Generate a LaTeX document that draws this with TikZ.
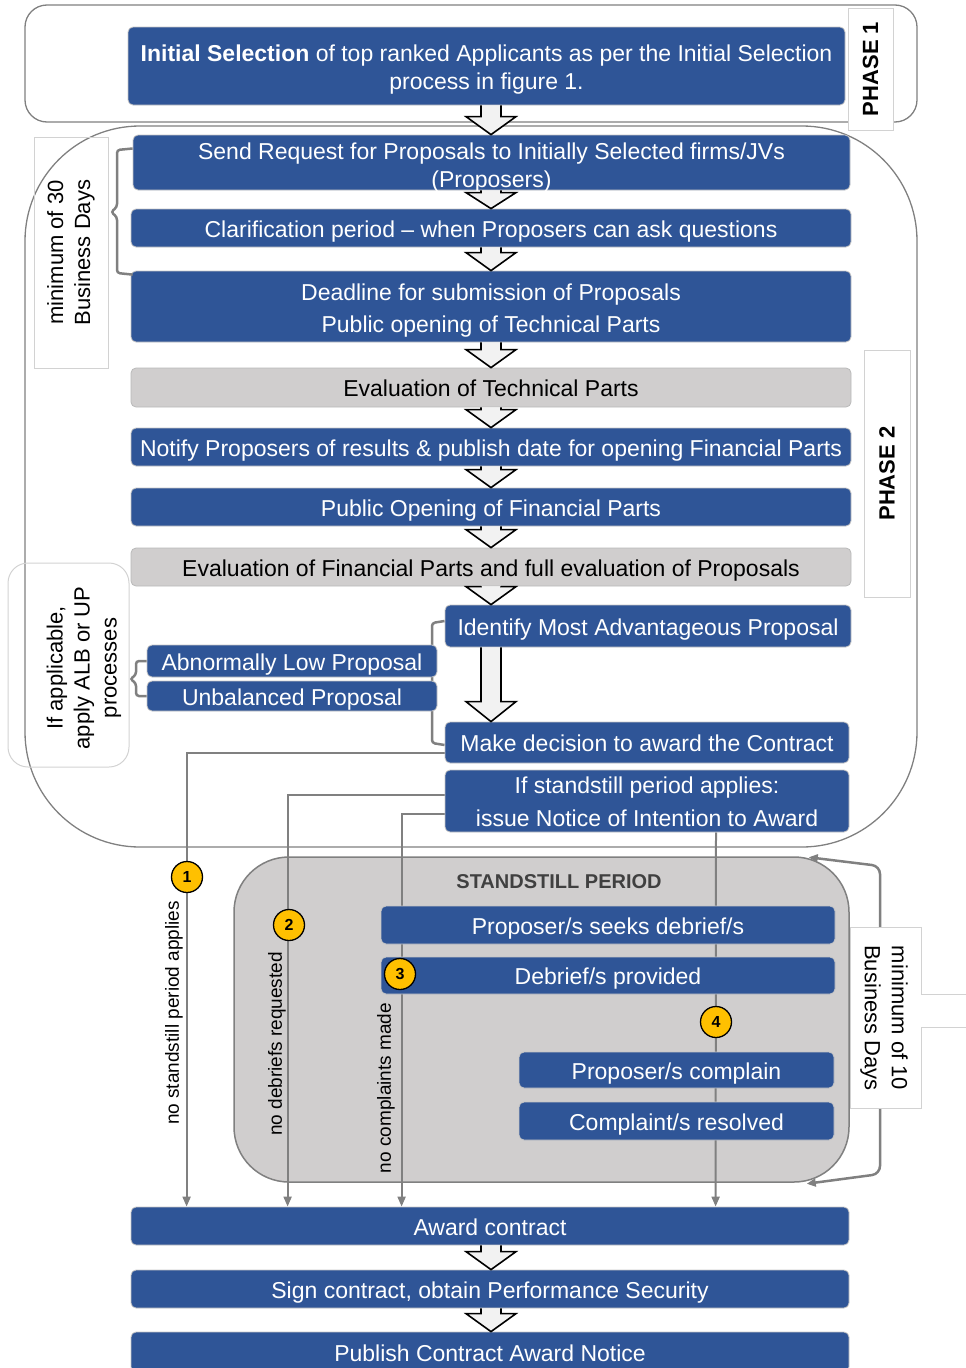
\documentclass[tikz,border=0pt]{standalone}
\usepackage{fontspec}
\setmainfont{Liberation Sans}
\usetikzlibrary{calc,arrows.meta}

\definecolor{boxblue}{HTML}{2F5597}
\definecolor{boxgrey}{HTML}{D0CECE}
\definecolor{linegrey}{HTML}{808080}
\definecolor{dotyellow}{HTML}{FFC000}
\definecolor{arrowfill}{HTML}{F2F2F2}
\definecolor{titlegrey}{HTML}{404040}

\pgfdeclarelayer{frames}
\pgfdeclarelayer{links}
\pgfsetlayers{frames,links,main}

\newcommand{\flowarrow}[3][18]{%
  \path (#2.south -| mid) coordinate (fa-top) (#3.north -| mid) coordinate (fa-tip);
  \filldraw[hollow] ($(fa-top)+(-10,0)$) -- ($(fa-tip)+(-10,-#1)$) -- ($(fa-tip)+(-25,-#1)$)
    -- (fa-tip) -- ($(fa-tip)+(25,-#1)$) -- ($(fa-tip)+(10,-#1)$) -- ($(fa-top)+(10,0)$);
}
\newcommand{\toplift}[1]{\rule{0pt}{#1pt}}

\begin{document}
\begin{tikzpicture}[x=1pt, y=-1pt,
    stepbox/.style = {rectangle, rounded corners=5, fill=boxblue, draw=gray!45, line width=0.8,
                      text=white, align=center, inner sep=0, font=\fontsize{23}{28}\selectfont,
                      execute at begin node={\rule{0pt}{24pt}},
                      execute at end node={\rule[-6pt]{0pt}{6pt}}},
    evalbox/.style = {stepbox, fill=boxgrey, draw=gray!55, text=black},
    hollow/.style = {fill=arrowfill, draw=black, line width=1.6, line join=miter},
    bracket/.style = {draw=linegrey, line width=2.5, rounded corners=3},
    route/.style = {draw=linegrey, line width=2, -{Triangle[length=10pt,width=8pt]}},
    phaseframe/.style = {draw=linegrey, line width=1.3},
    sideline/.style = {draw=gray!35, line width=1},
    sidebox/.style = {sideline, align=center, inner sep=0, font=\fontsize{22}{27}\selectfont},
    phasebox/.style = {sidebox, fill=white, font=\fontsize{22}{26}\selectfont\bfseries},
    stillbox/.style = {rectangle, rounded corners=55, fill=boxgrey, draw=linegrey, line width=1.5,
                       minimum width=615, minimum height=325},
    numdot/.style = {circle, fill=dotyellow, draw=black, line width=1.3, minimum size=31,
                     inner sep=0, font=\fontsize{16}{16}\selectfont\bfseries},
    routetext/.style = {rotate=90, inner sep=0, font=\fontsize{19}{19}\selectfont}]

  \useasboundingbox (0,0) rectangle (966,1368);
  \coordinate (mid) at (491,0);

  \begin{pgfonlayer}{frames}
    \draw[phaseframe, rounded corners=22] (25,5) rectangle (917,122);
    \draw[phaseframe, rounded corners=115] (25,126) rectangle (917,847);
    \node[stillbox] (still) at (541.5,1019.5) {};
  \end{pgfonlayer}

  \node[sidebox, rotate=90, minimum width=231, minimum height=74] (days30) at (71,252.5) {minimum of 30\\Business Days};
  \node[phasebox, rotate=90, minimum width=122, minimum height=45] (phase1) at (870.5,69) {PHASE 1};
  \node[phasebox, rotate=90, minimum width=247, minimum height=46] (phase2) at (887,473.5) {PHASE 2};
  \draw[sideline, rounded corners=20] (8,563) rectangle (129,767);
  \node[sidebox, draw=none, rotate=90] (albup) at (84,668) {If applicable,\\apply ALB or UP\\processes};
  \node[font=\fontsize{20}{20}\selectfont\bfseries, text=titlegrey, inner sep=0] (stilltitle) at (559,882) {STANDSTILL PERIOD};

  \node[stepbox, minimum width=717, minimum height=78] (init) at (486.5,66)
    {\toplift{25}\textbf{Initial Selection} of top ranked Applicants as per the Initial Selection\\process in figure 1.};
  \node[stepbox, minimum width=717, minimum height=55, inner ysep=-3] (rfp) at (491.5,162.5)
    {\toplift{27}Send Request for Proposals to Initially Selected firms/JVs\\(Proposers)};
  \node[stepbox, minimum width=720, minimum height=38] (clar) at (491,228)
    {Clarification period -- when Proposers can ask questions};
  \node[stepbox, minimum width=720, minimum height=71] (dead) at (491,306.5)
    {\toplift{25}Deadline for submission of Proposals\\[4pt]Public opening of Technical Parts};
  \node[evalbox, minimum width=720, minimum height=39] (evtech) at (491,387.5) {Evaluation of Technical Parts};
  \node[stepbox, minimum width=720, minimum height=38] (notify) at (491,447)
    {Notify Proposers of results \& publish date for opening Financial Parts};
  \node[stepbox, minimum width=720, minimum height=38] (pubfin) at (491,507) {Public Opening of Financial Parts};
  \node[evalbox, minimum width=720, minimum height=38] (evfin) at (491,567)
    {Evaluation of Financial Parts and full evaluation of Proposals};
  \node[stepbox, minimum width=406, minimum height=42] (map) at (648,626) {Identify Most Advantageous Proposal};
  \node[stepbox, minimum width=404, minimum height=41] (decide) at (647,742.5) {Make decision to award the Contract};
  \node[stepbox, minimum width=404, minimum height=62] (notice) at (647,801)
    {\toplift{23}If standstill period applies:\\[5pt]issue Notice of Intention to Award};
  \node[stepbox, minimum width=290, minimum height=32] (alp) at (292,661) {Abnormally Low Proposal};
  \node[stepbox, minimum width=290, minimum height=30] (up) at (292,696) {Unbalanced Proposal};
  \node[stepbox, minimum width=454, minimum height=38] (seeks) at (608,925) {Proposer/s seeks debrief/s};
  \node[stepbox, minimum width=454, minimum height=37] (given) at (608,975.5) {Debrief/s provided};
  \node[stepbox, minimum width=315, minimum height=36] (complain) at (676.5,1070) {Proposer/s complain};
  \node[stepbox, minimum width=315, minimum height=38] (resolved) at (676.5,1121) {Complaint/s resolved};
  \node[stepbox, minimum width=718, minimum height=38] (award) at (490,1226) {Award contract};
  \node[stepbox, minimum width=718, minimum height=38] (sign) at (490,1289) {Sign contract, obtain Performance Security};
  \node[stepbox, minimum width=718, minimum height=40] (publish) at (490,1352) {Publish Contract Award Notice};

  \begin{pgfonlayer}{links}
    \draw[bracket] ($(map.west)+(0,-5)$) -- (432,623) -- (432,743) -- ($(decide.west)+(0,2.5)$);
    \draw[route] ($(decide.west)+(0,10.5)$) -| ($(award.north west)+(56,0)$);
    \draw[route] ($(notice.west)+(0,-6)$) -| ($(award.north west)+(157,0)$);
    \draw[route] ($(notice.west)+(0,13)$) -| ($(award.north west)+(271,0)$);
    \draw[route] ($(notice.south)+(69,0)$) -- ($(award.north west)+(585,0)$);
  \end{pgfonlayer}

  \draw[bracket] ($(rfp.west)+(0,-14)$) -- (117,150) -- (117,207) -- (111,212) -- (117,217)
    -- (117,273) -- ($(dead.north west)+(2,4)$);
  \draw[bracket] (alp.west) -- (136,661) -- (136,675) -- (130,679) -- (136,683) -- (136,696) -- (up.west);
  \draw[bracket, rounded corners=8, {Triangle[length=9pt,width=8pt]}-{Triangle[length=9pt,width=8pt]}]
    ($(still.north east)+(-41,1)$) -- (880,866) -- (880,1174) -- ($(still.south east)+(-43,1)$);

  \filldraw[sideline, fill=white] (850,927) -- (921,927) -- (921,994) -- (972,994)
    -- (972,1027) -- (921,1027) -- (921,1108) -- (850,1108) -- cycle;
  \node[sidebox, draw=none, rotate=-90] (days10) at (884,1018) {minimum of 10\\Business Days};

  \flowarrow{init}{rfp}
  \flowarrow[16]{rfp}{clar}
  \flowarrow{clar}{dead}
  \flowarrow{dead}{evtech}
  \flowarrow{evtech}{notify}
  \flowarrow{notify}{pubfin}
  \flowarrow{pubfin}{evfin}
  \flowarrow{evfin}{map}
  \flowarrow[20]{map}{decide}
  \flowarrow{award}{sign}
  \flowarrow{sign}{publish}

  \node[routetext] (why1) at (174,1013) {no standstill period applies};
  \node[routetext] (why2) at (277,1044) {no debriefs requested};
  \node[routetext] (why3) at (386,1088) {no complaints made};

  \node[numdot] (n1) at (187,877) {1};
  \node[numdot] (n2) at (289,925) {2};
  \node[numdot] (n3) at (400,974) {3};
  \node[numdot] (n4) at (716,1022) {4};
\end{tikzpicture}
\end{document}
